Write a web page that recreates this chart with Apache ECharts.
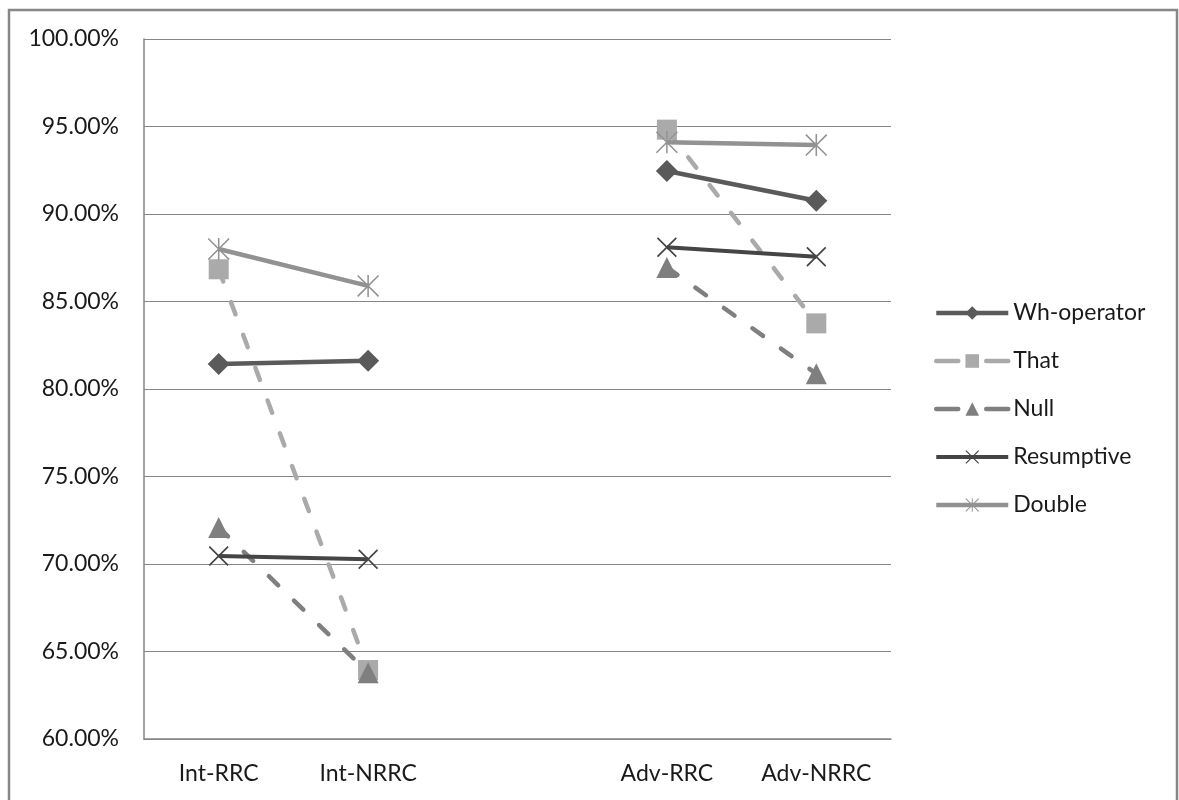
<!DOCTYPE html>
<html>
<head>
<meta charset="utf-8">
<script src="https://cdn.jsdelivr.net/npm/echarts@6/dist/echarts.min.js"></script>
<style>
  html, body { margin: 0; padding: 0; background: #ffffff; }
  #chart { width: 1179px; height: 800px; }
</style>
</head>
<body>
<div id="chart"></div>
<script>
// Category slots; the empty slot separates the two groups.
const categories = ['Int-RRC', 'Int-NRRC', '', 'Adv-RRC', 'Adv-NRRC'];

// Percentages per condition (null = gap between groups)
const whOperator = [81.43, 81.62, null, 92.46, 90.76];
const thatComp   = [86.84, 63.94, null, 94.82, 83.75];
const nullComp   = [72.09, 63.79, null, 86.95, 80.87];
const resumptive = [70.46, 70.27, null, 88.10, 87.56];
const doubleComp = [88.00, 85.89, null, 94.10, 93.94];

const seriesNames = ['Wh-operator', 'That', 'Null', 'Resumptive', 'Double'];

const yMin = 60, yMax = 100, yStep = 5;

// Custom marker shapes: a cross and an asterisk built from thin bars
const crossPath = 'path://M0,1.2 L1.2,0 L20,18.8 L18.8,20 Z M18.8,0 L20,1.2 L1.2,20 L0,18.8 Z';
const starPath = 'path://M0,1 L1,0 L20,19 L19,20 Z M19,0 L20,1 L1,20 L0,19 Z M9.3,0 L10.7,0 L10.7,20 L9.3,20 Z';

const FONT = 'Lato';
const dash = [13, 22];

const styles = {
  'Wh-operator': { color: '#5a5a5a', symbol: 'diamond', size: 22, width: 4.5, dashed: false },
  'That':        { color: '#aaaaaa', symbol: 'rect', size: 20, width: 4.5, dashed: true },
  'Null':        { color: '#7f7f7f', symbol: 'triangle', size: 21, width: 4.5, dashed: true },
  'Resumptive':  { color: '#454545', symbol: crossPath, size: 20, width: 4, dashed: false },
  'Double':      { color: '#929292', symbol: starPath, size: 22, width: 4.5, dashed: false }
};

function lineSeries(name, data) {
  const s = styles[name];
  return {
    name: name,
    type: 'line',
    data: data,
    connectNulls: false,
    symbol: s.symbol,
    symbolSize: s.size,
    showAllSymbol: true,
    itemStyle: { color: s.color, opacity: 1 },
    lineStyle: {
      color: s.color,
      width: s.width,
      type: s.dashed ? dash : 'solid',
      cap: s.dashed ? 'round' : 'butt'
    },
    emphasis: { disabled: true },
    animation: false
  };
}

const legendData = seriesNames.map(name => {
  const s = styles[name];
  return {
    name: name,
    lineStyle: { width: s.width, type: s.dashed ? [22, 28] : 'solid', color: s.color }
  };
});

const chart = echarts.init(document.getElementById('chart'), null, { renderer: 'canvas' });

chart.setOption({
  backgroundColor: '#ffffff',
  textStyle: { fontFamily: FONT },
  graphic: [{
    type: 'rect',
    shape: { x: 9, y: 10, width: 1168, height: 800 },
    style: { fill: 'none', stroke: '#878787', lineWidth: 2.5 },
    silent: true
  }],
  grid: { left: 144, right: 288, top: 39, bottom: 61, containLabel: false },
  legend: {
    orient: 'vertical',
    left: 929,
    top: 295,
    itemWidth: 72,
    itemHeight: 17,
    itemGap: 22,
    textStyle: { fontFamily: FONT, fontSize: 23, color: '#1a1a1a', lineHeight: 26 },
    data: legendData
  },
  xAxis: {
    type: 'category',
    data: categories,
    boundaryGap: true,
    axisLine: { show: true, lineStyle: { color: '#868686', width: 1.5 } },
    axisTick: { show: false },
    axisLabel: { fontFamily: FONT, fontSize: 23, color: '#1a1a1a', margin: 23, interval: 0 },
    splitLine: { show: false }
  },
  yAxis: {
    type: 'value',
    min: yMin,
    max: yMax,
    interval: yStep,
    axisLine: { show: true, lineStyle: { color: '#868686', width: 1.5 } },
    axisTick: { show: false },
    axisLabel: {
      fontFamily: FONT, fontSize: 23, color: '#1a1a1a', margin: 25,
      formatter: v => v.toFixed(2) + '%'
    },
    splitLine: { show: true, lineStyle: { color: '#868686', width: 1.2 } }
  },
  series: [
    lineSeries('Wh-operator', whOperator),
    lineSeries('That', thatComp),
    lineSeries('Null', nullComp),
    lineSeries('Resumptive', resumptive),
    lineSeries('Double', doubleComp)
  ]
});
</script>
</body>
</html>
